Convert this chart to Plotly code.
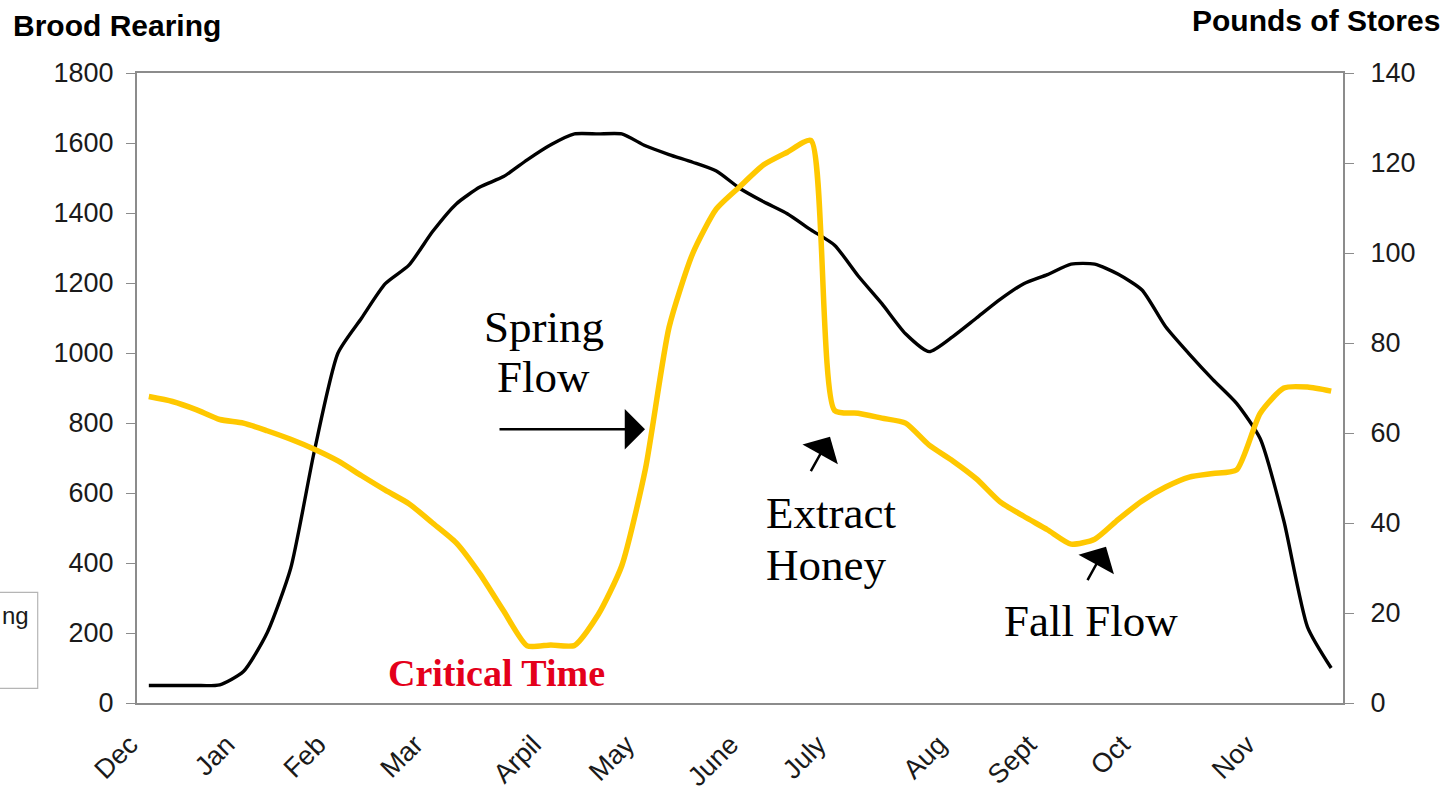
import plotly.graph_objects as go

# ---------------- data ----------------
months = ["Dec", "Jan", "Feb", "Mar", "Arpil", "May", "June", "July", "Aug", "Sept", "Oct", "Nov"]
month_pos = [0, 4.1, 7.95, 12.05, 17.05, 21.0, 25.4, 29.1, 34.2, 38.0, 41.95, 47.25]   # weeks

n_weeks = 51
week_x = [i + 0.5 for i in range(n_weeks)]

brood_rearing = [50, 50, 50, 52, 90, 200, 385, 720, 1000, 1100, 1198, 1251, 1347, 1426, 1474,
                 1504, 1552, 1595, 1626, 1626, 1626, 1592, 1567, 1545, 1520, 1470, 1432, 1398,
                 1352, 1308, 1220, 1141, 1055, 1004, 1047, 1100, 1153, 1198, 1224, 1254, 1254,
                 1225, 1180, 1075, 997, 924, 856, 755, 520, 217, 100]

pounds_of_stores = [68.1, 67.0, 65.2, 63.0, 62.2, 60.5, 58.6, 56.4, 53.8, 50.5, 47.3, 44.3,
                    40.0, 35.6, 28.7, 20.5, 12.7, 12.9, 12.8, 19.6, 30.5, 52.0, 83.5, 99.9,
                    109.8, 114.8, 119.6, 122.4, 125.0, 65.0, 64.4, 63.3, 62.2, 57.3, 53.8,
                    49.8, 44.7, 41.5, 38.5, 35.3, 36.4, 40.8, 44.9, 48.0, 50.2, 51.0, 51.8,
                    64.4, 70.0, 70.2, 69.3]

left_ticks = list(range(0, 1801, 200))
right_ticks = list(range(0, 141, 20))

# ---------------- layout geometry ----------------
W, H = 1456, 792
L, R, T, B = 137, 113, 73, 89
PW, PH = W - L - R, H - T - B


def px(x):
    return (x - L) / PW


def py(y):
    return 1 - (y - T) / PH


AXIS_COL = "#8c8c8c"
SANS = "Liberation Sans, Arial, sans-serif"
SERIF = "Liberation Serif, Times New Roman, serif"
TICK_FONT = dict(family=SANS, size=27, color="#1a1a1a")
XTICK_FONT = dict(family=SANS, size=27, color="#1a1a1a")

fig = go.Figure()

fig.add_trace(go.Scatter(
    x=week_x, y=pounds_of_stores, yaxis="y2", mode="lines",
    line=dict(color="#FFC800", width=5.5, shape="spline", smoothing=0.6),
    name="Pounds of Stores", showlegend=False, hoverinfo="x+y"))

fig.add_trace(go.Scatter(
    x=week_x, y=brood_rearing, yaxis="y", mode="lines",
    line=dict(color="#000000", width=3.4, shape="spline", smoothing=0.6),
    name="Brood Rearing", showlegend=False, hoverinfo="x+y"))

x_common = dict(range=[0, n_weeks], fixedrange=True, showgrid=False, zeroline=False,
                automargin=False)
y_common = dict(showgrid=False, zeroline=False, fixedrange=True, automargin=False,
                tickwidth=1.3, tickcolor=AXIS_COL, ticklen=9)

fig.update_layout(
    width=W, height=H,
    margin=dict(l=L, r=R, t=T, b=B, pad=0, autoexpand=False),
    paper_bgcolor="white", plot_bgcolor="white",
    showlegend=False,
    xaxis=dict(**x_common, tickmode="array", tickvals=month_pos, ticktext=months,
               tickangle=-45, ticks="", tickfont=XTICK_FONT, ticklabelstandoff=13,
               ticklabelshift=-7,
               showline=True, linecolor=AXIS_COL, linewidth=2, mirror=True),
    xaxis2=dict(**x_common, overlaying="x", anchor="y", side="bottom",
                tick0=0, dtick=1, ticks="outside", ticklen=7, tickwidth=1.3,
                tickcolor=AXIS_COL, showticklabels=False, showline=False),
    xaxis3=dict(**x_common, overlaying="x", anchor="y", side="bottom",
                tick0=0, dtick=1, ticks="inside", ticklen=7, tickwidth=1.3,
                tickcolor=AXIS_COL, showticklabels=False, showline=False),
    yaxis=dict(**y_common, range=[0, 1800], tickmode="array", tickvals=left_ticks,
               ticks="outside", tickfont=TICK_FONT, ticklabelstandoff=7,
               showline=True, linecolor=AXIS_COL, linewidth=2),
    yaxis2=dict(**y_common, range=[0, 140], tickmode="array", tickvals=right_ticks,
                overlaying="y", side="right", anchor="x",
                ticks="outside", tickfont=TICK_FONT, ticklabelstandoff=11,
                showline=True, linecolor=AXIS_COL, linewidth=2),
    yaxis3=dict(**y_common, range=[0, 1800], tickmode="array", tickvals=left_ticks[1:],
                overlaying="y", side="left", anchor="x",
                ticks="inside", showticklabels=False, showline=False),
    yaxis4=dict(**y_common, range=[0, 140], tickmode="array", tickvals=right_ticks[1:],
                overlaying="y", side="right", anchor="x",
                ticks="inside", showticklabels=False, showline=False),
)

annotations = []


def text_ann(txt, x, y, size, xanchor="center", family=SERIF, color="black", bold=False):
    t = f"<b>{txt}</b>" if bold else txt
    annotations.append(dict(text=t, x=px(x), y=py(y), xref="paper", yref="paper",
                            xanchor=xanchor, yanchor="middle", showarrow=False,
                            font=dict(family=family, size=size, color=color)))


def arrow_ann(tip, tail):
    annotations.append(dict(text="", x=px(tip[0]), y=py(tip[1]), xref="paper", yref="paper",
                            ax=tail[0] - tip[0], ay=tail[1] - tip[1],
                            showarrow=True, arrowhead=1, arrowsize=2.7, arrowwidth=2.5,
                            arrowcolor="black", standoff=0, startstandoff=0))


# axis titles
text_ann("Brood Rearing", 11, 25.5, 30, xanchor="left", family=SANS, bold=True)
text_ann("Pounds of Stores", 1442, 20, 30, xanchor="right", family=SANS, bold=True)

# callouts
text_ann("Spring", 544, 326.7, 45)
text_ann("Flow", 543, 376.7, 45)
arrow_ann((645, 429.3), (498, 429.3))

text_ann("Extract", 764, 512.5, 45, xanchor="left")
text_ann("Honey", 764, 565, 45, xanchor="left")
arrow_ann((830, 436.7), (810, 472.7))

text_ann("Fall Flow", 1091, 621.3, 45)
arrow_ann((1106, 546.7), (1086.7, 581.7))

text_ann("Critical Time", 497, 673.3, 38, color="#e4001b", bold=True)

# partially visible legend box at the far left
text_ann("ng", 0, 615, 24, xanchor="left", family=SANS, color="#1a1a1a")
fig.add_shape(type="rect", xref="paper", yref="paper",
              x0=px(-20), x1=px(37.7), y0=py(688.3), y1=py(592.3),
              line=dict(color="#b5b5b5", width=1.2), fillcolor="rgba(0,0,0,0)", layer="above")

fig.update_layout(annotations=annotations)

fig.write_html("out.html", config={"displayModeBar": False},
               post_script="document.body.style.margin='0';document.body.style.overflow='hidden';")
